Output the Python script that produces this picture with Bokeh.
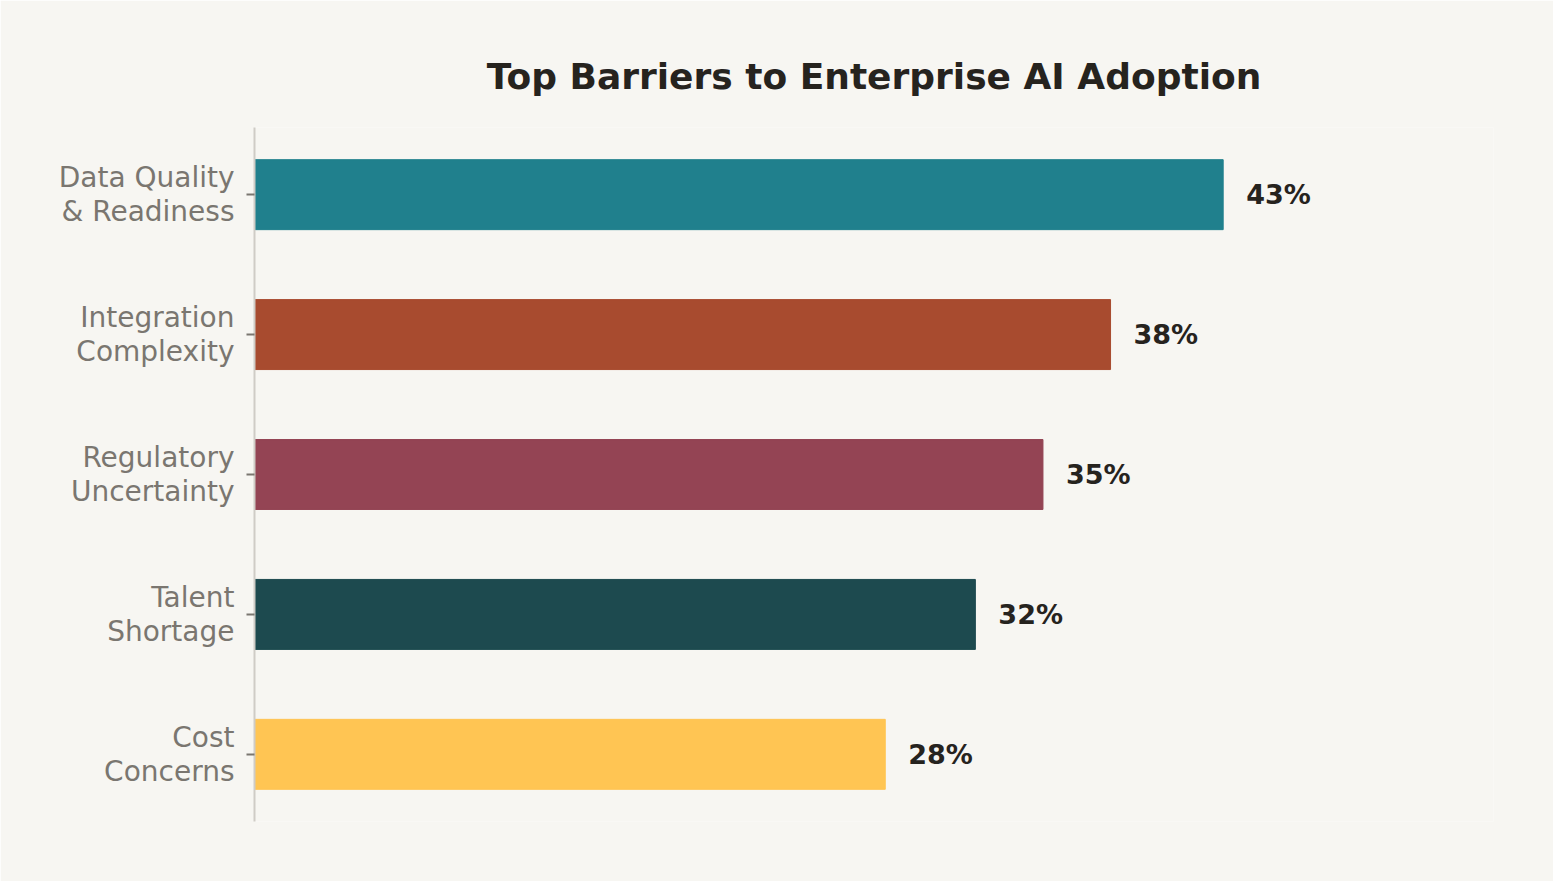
from bokeh.plotting import figure
from bokeh.models import ColumnDataSource, Range1d, FixedTicker
from bokeh.embed import file_html
from bokeh.resources import INLINE

categories = ["Data Quality\n& Readiness", "Integration\nComplexity", "Regulatory\nUncertainty",
              "Talent\nShortage", "Cost\nConcerns"]
values = [43, 38, 35, 32, 28]
colors = ["#20808D", "#A84B2F", "#944454", "#1D4A4F", "#FFC553"]
value_labels = [f"{v}%" for v in values]
positions = list(range(len(categories)))

BG = "#F7F6F2"
FONT = "DejaVu Sans"

src = ColumnDataSource(dict(y=positions, v=values, c=colors, lab=value_labels))

p = figure(width=1553, height=881, output_backend="svg", toolbar_location=None,
           x_range=Range1d(0, 55), y_range=Range1d(4.48, -0.48),
           min_border_left=254, min_border_right=60, min_border_bottom=60, min_border_top=127)
p.background_fill_color = BG
p.border_fill_color = BG
p.outline_line_color = None
p.xgrid.visible = False
p.ygrid.visible = False
p.xaxis.visible = False

p.title.text = "Top Barriers to Enterprise AI Adoption"
p.title.align = "center"
p.title.text_font = FONT
p.title.text_font_size = "36px"
p.title.text_font_style = "bold"
p.title.text_color = "#26231E"
p.title.standoff = 62

p.hbar(y="y", left=0, right="v", height=0.5, color="c", source=src)
p.text(x="v", y="y", text="lab", source=src, x_offset=23, text_baseline="middle",
       text_align="left", text_font_size="27px", text_font_style="bold",
       text_color="#26231E", text_font={"value": FONT})

ax = p.yaxis[0]
ax.ticker = FixedTicker(ticks=positions)
ax.major_label_overrides = {i: c for i, c in zip(positions, categories)}
ax.major_label_text_font = FONT
ax.major_label_text_font_size = "28px"
ax.major_label_text_line_height = 1.02
ax.major_label_text_color = "#7A7670"
ax.major_label_standoff = 12
ax.major_tick_out = 8
ax.major_tick_in = 0
ax.major_tick_line_width = 2
ax.major_tick_line_color = "#7A7670"
ax.minor_tick_line_color = None
ax.axis_line_color = "#CFCCC6"
ax.axis_line_width = 2

open("out.html", "w").write(file_html(p, INLINE))
